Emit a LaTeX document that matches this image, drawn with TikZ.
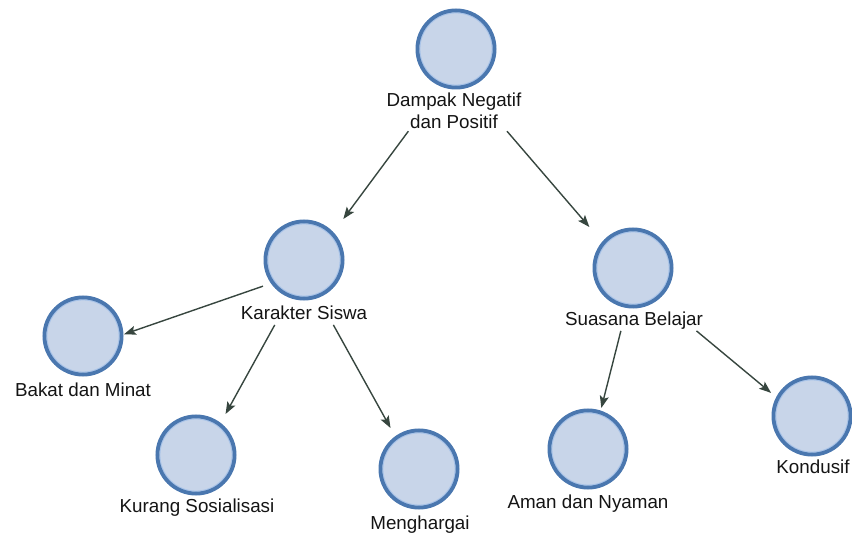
\documentclass[tikz,border=0pt]{standalone}
\usepackage{fontspec}
\setmainfont{Liberation Sans}
\usetikzlibrary{arrows.meta,fit}
\definecolor{bubfill}{HTML}{C8D5E9}
\definecolor{bubedge}{HTML}{4A77AF}
\definecolor{bubring}{HTML}{A8C3E8}
\definecolor{linkcol}{HTML}{37463F}
\definecolor{txtcol}{HTML}{141414}
\tikzset{
  bubble/.style={rectangle, minimum width=82pt, minimum height=82pt,
    inner sep=0pt, outer sep=0pt,
    path picture={
      \fill[bubfill] (path picture bounding box.center) circle (39pt);
      \draw[bubring, line width=1.2pt] (path picture bounding box.center) circle (36.2pt);
      \draw[bubedge, line width=3.8pt] (path picture bounding box.center) circle (38.6pt);
    }},
  caption/.style={anchor=north, inner xsep=2pt, inner ysep=1pt,
    text height=13.5pt, text depth=4pt,
    font=\fontsize{18.8}{22}\selectfont, text=txtcol},
  caption2/.style={anchor=north, inner xsep=2pt, inner ysep=2pt, align=center,
    font=\fontsize{18.8}{22}\selectfont, text=txtcol},
  group/.style={inner sep=0pt, outer sep=0pt},
  link/.style={draw=linkcol, line width=1.4pt,
    -{Stealth[length=12pt,width=9pt,inset=2.5pt]}},
}
\begin{document}
\begin{tikzpicture}[x=1pt,y=-1pt]
\useasboundingbox (0,0) rectangle (852,534);

% bubbles
\node[bubble] (d)  at (456,49)  {};
\node[bubble] (k)  at (304,260) {};
\node[bubble] (b)  at (83,336)  {};
\node[bubble] (ku) at (196,455) {};
\node[bubble] (m)  at (419,469) {};
\node[bubble] (s)  at (633,268) {};
\node[bubble] (a)  at (588,449) {};
\node[bubble] (ko) at (812,416) {};

% captions
\node[caption2] (dL)  at (454,91)    {Dampak Negatif\\dan Positif};
\node[caption]  (kL)  at (304,305)   {Karakter Siswa};
\node[caption]  (bL)  at (83,382)    {Bakat dan Minat};
\node[caption]  (kuL) at (197,497.5) {Kurang Sosialisasi};
\node[caption]  (mL)  at (420,514.5) {Menghargai};
\node[caption]  (sL)  at (634,311)   {Suasana Belajar};
\node[caption]  (aL)  at (588,493.5) {Aman dan Nyaman};
\node[caption]  (koL) at (813,459)   {Kondusif};

% bubble + caption groups
\node[group, fit=(d)(dL)]   (dG)  {};
\node[group, fit=(k)(kL)]   (kG)  {};
\node[group, fit=(b)(bL)]   (bG)  {};
\node[group, fit=(ku)(kuL)] (kuG) {};
\node[group, fit=(m)(mL)]   (mG)  {};
\node[group, fit=(s)(sL)]   (sG)  {};
\node[group, fit=(a)(aL)]   (aG)  {};
\node[group, fit=(ko)(koL)] (koG) {};

% connectors, running between group centres
\draw[link] (intersection of dG.center--kG.center and dL.south west--dL.south east)
         -- (intersection of dG.center--kG.center and k.north west--k.north east);
\draw[link] (intersection of dG.center--sG.center and dL.south west--dL.south east)
         -- (intersection of dG.center--sG.center and s.north west--s.north east);
\draw[link] (intersection of kG.center--bG.center and k.north west--k.south west)
         -- (intersection of kG.center--bG.center and b.north east--b.south east);
\draw[link] (intersection of kG.center--kuG.center and kL.south west--kL.south east)
         -- (intersection of kG.center--kuG.center and ku.north west--ku.north east);
\draw[link] (intersection of kG.center--mG.center and kL.south west--kL.south east)
         -- (intersection of kG.center--mG.center and m.north west--m.north east);
\draw[link] (intersection of sG.center--aG.center and sL.south west--sL.south east)
         -- (intersection of sG.center--aG.center and a.north west--a.north east);
\draw[link] (intersection of sG.center--koG.center and sL.south west--sL.south east)
         -- (intersection of sG.center--koG.center and ko.north west--ko.south west);
\end{tikzpicture}
\end{document}
